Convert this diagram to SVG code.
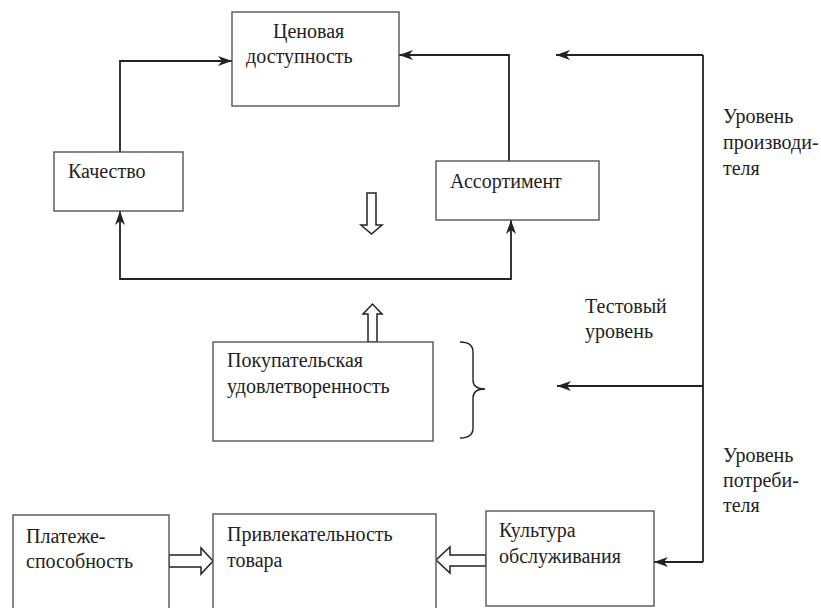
<svg xmlns="http://www.w3.org/2000/svg" width="821" height="608" viewBox="0 0 821 608">
<style>
.box{fill:#fff;stroke:#555;stroke-width:1.4}
.t{font-family:"Liberation Serif","Times New Roman",serif;font-size:20px;fill:#222}
.ln{fill:none;stroke:#222;stroke-width:1.8}
.ha{fill:#fff;stroke:#222;stroke-width:1.5;stroke-linejoin:miter}
</style>
<defs>
<marker id="ar" markerUnits="userSpaceOnUse" markerWidth="16" markerHeight="12" refX="14" refY="6" orient="auto" viewBox="0 0 16 12">
<path d="M0,1 L14,6 L0,11 L4,6 z" fill="#222"/>
</marker>
</defs>
<rect width="821" height="608" fill="#fff"/>
<g id="connectors">
<path class="ln" d="M120,152 V61 H232" marker-end="url(#ar)"/>
<path class="ln" d="M509,161 V55 H399" marker-end="url(#ar)"/>
<path class="ln" d="M316,279 H120 V211" marker-end="url(#ar)"/>
<path class="ln" d="M316,279 H511 V220" marker-end="url(#ar)"/>
<path class="ln" d="M703,55 V562"/>
<path class="ln" d="M703,55 H556" marker-end="url(#ar)"/>
<path class="ln" d="M703,386 H557" marker-end="url(#ar)"/>
<path class="ln" d="M703,562 H654" marker-end="url(#ar)"/>
<polygon class="ha" points="367,193 376,193 376,225 382,225 371.5,234 361,225 367,225"/>
<polygon class="ha" points="368,342 377,342 377,314 382,314 372.5,304 363,314 368,314"/>
<polygon class="ha" points="169,555 201,555 201,548 213,561 201,574 201,567 169,567"/>
<polygon class="ha" points="486,555 450,555 450,547 436,560 450,573 450,566 486,566"/>
<path class="ln" style="stroke-width:1.4" d="M460,342 Q473,342 473,352 V380 Q473,389 485,389 Q473,389 473,398 V428 Q473,438 460,438"/>
</g>
<g id="n-price">
<rect class="box" x="232" y="12" width="167" height="94"/>
<text class="t" x="273" y="38">Ценовая</text>
<text class="t" x="246" y="63">доступность</text>
</g>
<g id="n-quality">
<rect class="box" x="54" y="152" width="129" height="59"/>
<text class="t" x="68" y="178">Качество</text>
</g>
<g id="n-assort">
<rect class="box" x="436" y="161" width="163" height="59"/>
<text class="t" x="450" y="188">Ассортимент</text>
</g>
<g id="n-satisf">
<rect class="box" x="213" y="342" width="220" height="99"/>
<text class="t" x="227" y="367">Покупательская</text>
<text class="t" x="227" y="393">удовлетворенность</text>
</g>
<g id="n-solv">
<rect class="box" x="13" y="515" width="156" height="100"/>
<text class="t" x="26" y="543">Платеже-</text>
<text class="t" x="26" y="568">способность</text>
</g>
<g id="n-attr">
<rect class="box" x="213" y="514" width="223" height="101"/>
<text class="t" x="227" y="541">Привлекательность</text>
<text class="t" x="227" y="567">товара</text>
</g>
<g id="n-culture">
<rect class="box" x="486" y="511" width="168" height="95"/>
<text class="t" x="499" y="537">Культура</text>
<text class="t" x="499" y="563">обслуживания</text>
</g>
<g id="labels">
<text class="t" x="723" y="123">Уровень</text>
<text class="t" x="723" y="149">производи-</text>
<text class="t" x="723" y="175">теля</text>
<text class="t" x="585" y="313">Тестовый</text>
<text class="t" x="585" y="338">уровень</text>
<text class="t" x="723" y="462">Уровень</text>
<text class="t" x="723" y="487">потреби-</text>
<text class="t" x="723" y="512">теля</text>
</g>
</svg>
